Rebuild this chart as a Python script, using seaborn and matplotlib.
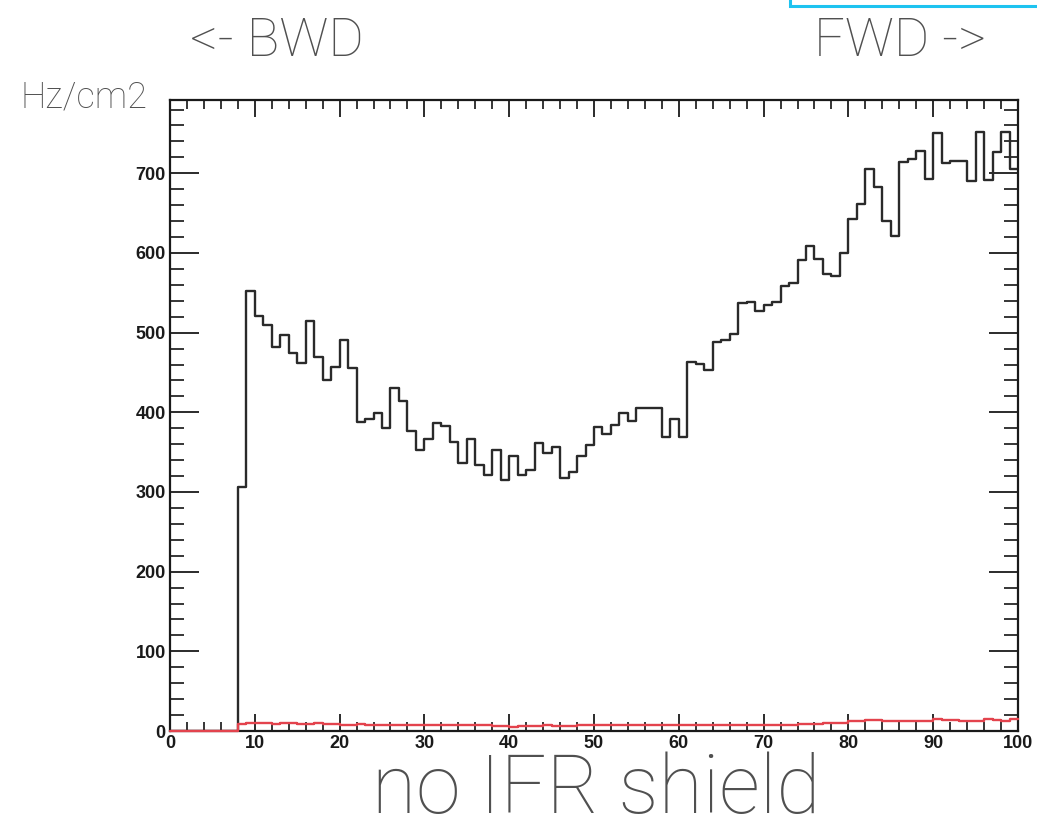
import matplotlib
matplotlib.use("Agg")
import matplotlib.pyplot as plt
import seaborn as sns
import pandas as pd
from matplotlib.ticker import MultipleLocator
from matplotlib.patches import Rectangle

# ---- data ----
bin_edges = list(range(0, 101))
rate_total = [
    0, 0, 0, 0, 0, 0, 0, 0, 306, 552,
    521, 509, 482, 497, 475, 462, 515, 469, 440, 457,
    491, 456, 388, 392, 399, 380, 431, 414, 376, 353,
    367, 387, 383, 363, 337, 367, 334, 321, 353, 315,
    345, 321, 327, 362, 349, 357, 318, 325, 345, 359,
    382, 373, 384, 399, 389, 406, 405, 405, 369, 392,
    369, 463, 461, 453, 488, 491, 498, 537, 539, 527,
    535, 539, 558, 562, 591, 609, 593, 573, 571, 600,
    643, 661, 705, 683, 640, 621, 714, 718, 728, 693,
    751, 713, 716, 716, 690, 752, 691, 727, 752, 705,
]
rate_shield = [
    0, 0, 0, 0, 0, 0, 0, 0, 9, 10,
    10, 10, 9, 10, 10, 9, 9, 10, 9, 9,
    8, 8, 9, 8, 8, 8, 8, 8, 8, 8,
    8, 8, 8, 8, 7, 7, 7, 7, 6, 6,
    5, 6, 6, 6, 7, 6, 6, 6, 7, 7,
    7, 7, 7, 7, 7, 7, 7, 7, 7, 8,
    8, 8, 8, 8, 8, 8, 8, 8, 8, 8,
    8, 8, 8, 8, 9, 9, 9, 10, 10, 10,
    13, 13, 14, 14, 13, 13, 13, 13, 13, 13,
    15, 14, 14, 13, 13, 13, 15, 14, 12, 15,
]
x_ticks = [0, 10, 20, 30, 40, 50, 60, 70, 80, 90, 100]
y_ticks = [0, 100, 200, 300, 400, 500, 600, 700]

sns.set_style("white")

W, H = 1037, 831
fig = plt.figure(figsize=(W / 100, H / 100), dpi=100)
ax = fig.add_axes([170 / W, 100 / H, 848 / W, 631 / H])

centers = [e + 0.5 for e in bin_edges[:-1]]
df = pd.DataFrame({"pos": centers, "total": rate_total, "shield": rate_shield})

sns.histplot(data=df, x="pos", weights="total", bins=bin_edges, element="step",
             fill=False, color="#2a2a2a", linewidth=1.7, ax=ax)
sns.histplot(data=df, x="pos", weights="shield", bins=bin_edges, element="step",
             fill=False, color="#e3434d", linewidth=1.7, ax=ax)
red_line = ax.lines[-1]
red_line.set_zorder(3)
red_line.set_clip_on(False)

ax.set_xlim(0, 100)
ax.set_ylim(0, 792)
ax.set_xlabel("")
ax.set_ylabel("")

for s in ax.spines.values():
    s.set_visible(True)
    s.set_linewidth(1.6)
    s.set_color("#1a1a1a")

ax.set_xticks(x_ticks)
ax.set_yticks(y_ticks)
ax.xaxis.set_minor_locator(MultipleLocator(2))
ax.yaxis.set_minor_locator(MultipleLocator(20))

ax.tick_params(axis="x", which="major", direction="in", top=True, bottom=True,
               length=12, width=1.3, pad=3, labelsize=13, colors="#1a1a1a")
ax.tick_params(axis="x", which="minor", direction="in", top=True, bottom=True,
               length=6.5, width=1.3)
ax.tick_params(axis="y", which="major", direction="in", left=True, right=True,
               length=21, width=1.3, pad=3, labelsize=13, colors="#1a1a1a")
ax.tick_params(axis="y", which="minor", direction="in", left=True, right=True,
               length=10, width=1.3)
for lab in ax.get_xticklabels() + ax.get_yticklabels():
    lab.set_fontfamily("Liberation Sans")
    lab.set_fontweight("bold")

txt_kw = dict(family="Roboto", weight="light", color="#505050", ha="center")
fig.text(277 / W, 1 - 56 / H, "<- BWD", fontsize=39, va="baseline", **txt_kw)
fig.text(900 / W, 1 - 56 / H, "FWD ->", fontsize=39, va="baseline", **txt_kw)
fig.text(84 / W, 1 - 107 / H, "Hz/cm2", fontsize=26, va="baseline", **txt_kw)
fig.text(596 / W, 1.5 / H, "no IFR shield", fontsize=58, va="bottom", **txt_kw)

# cyan box partially visible at the top right
fig.patches.append(Rectangle((790 / W, 1 - 6 / H), 300 / W, 40 / H,
                             transform=fig.transFigure, facecolor="white",
                             edgecolor="#1ec3f0", linewidth=2.2, clip_on=False))

fig.savefig("out.png", dpi=100, facecolor="white")
